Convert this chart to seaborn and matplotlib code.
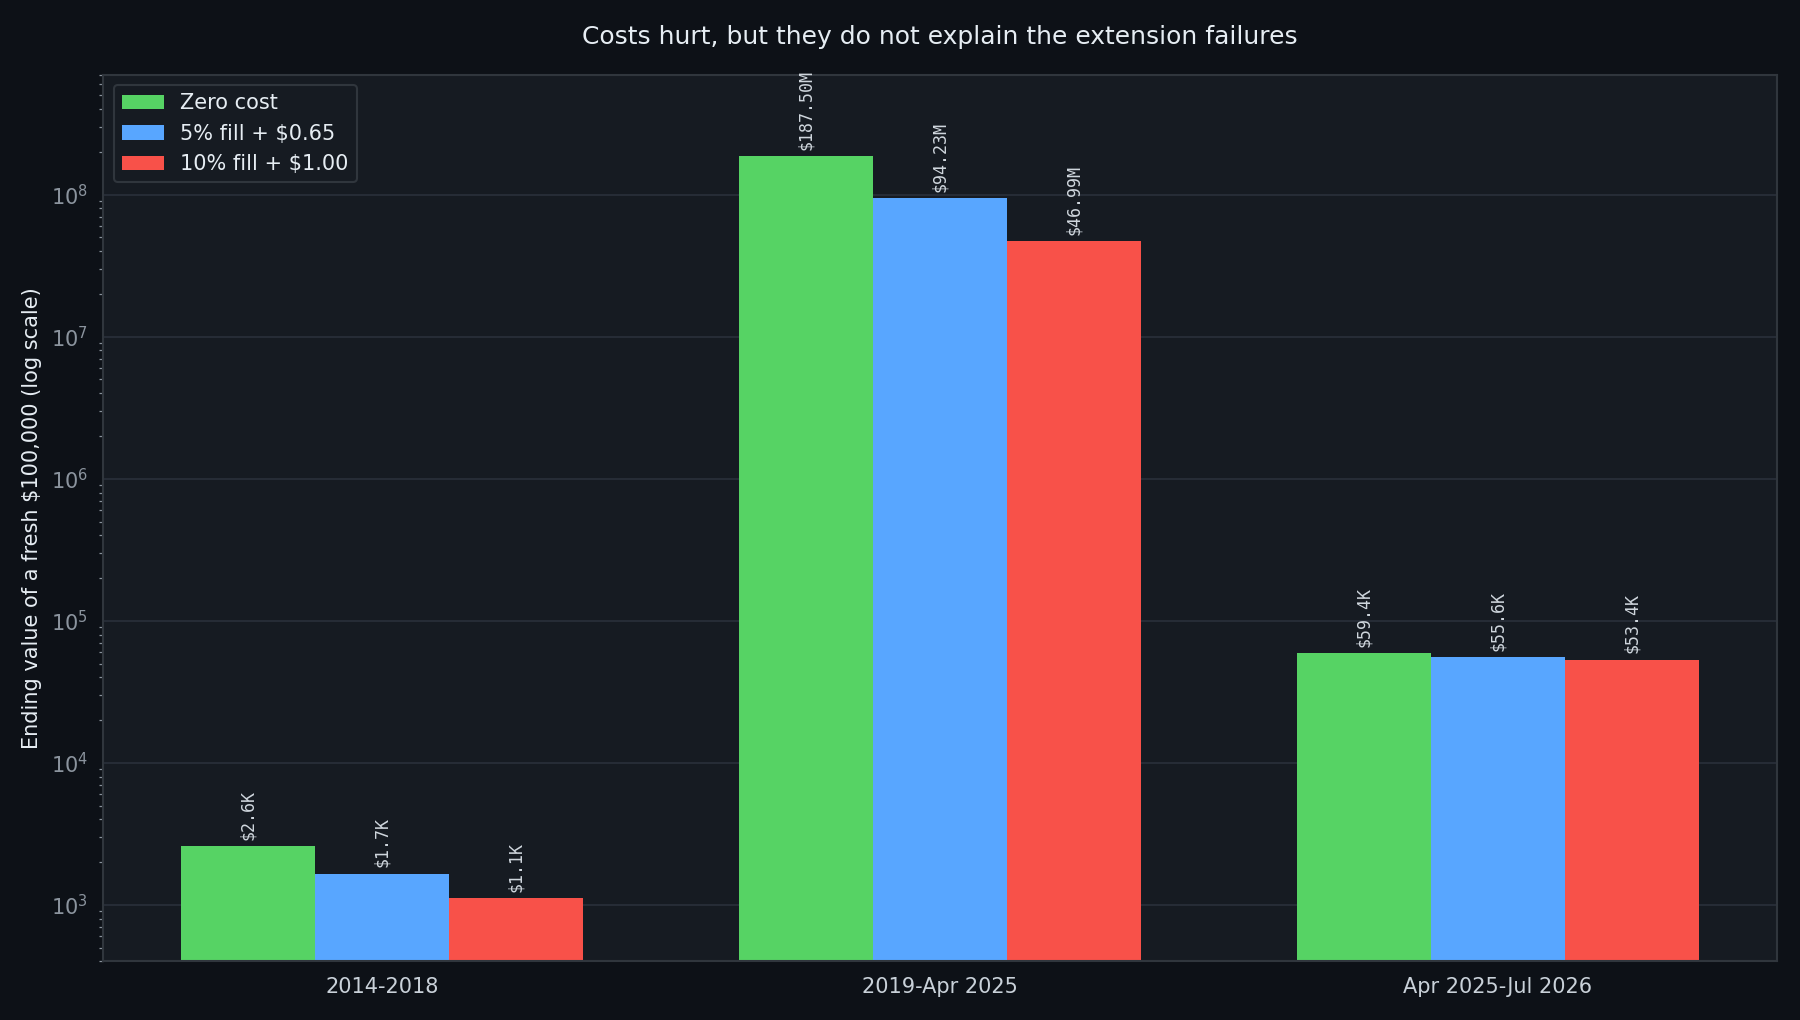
import pandas as pd
import matplotlib
matplotlib.use("Agg")
import matplotlib.pyplot as plt
import seaborn as sns

# ---------------------------
# Data
# ---------------------------
periods = ["2014-2018", "2019-Apr 2025", "Apr 2025-Jul 2026"]
scenarios = ["Zero cost", "5% fill + $0.65", "10% fill + $1.00"]
zero_cost = [2580, 187.50e6, 59.4e3]
fill_5 = [1660, 94.23e6, 55.6e3]
fill_10 = [1120, 46.99e6, 53.4e3]

colors = ["#56d364", "#58a6ff", "#f85149"]

df = pd.DataFrame({
    "Period": periods * 3,
    "Scenario": [scenarios[0]] * 3 + [scenarios[1]] * 3 + [scenarios[2]] * 3,
    "Value": zero_cost + fill_5 + fill_10,
})

# ---------------------------
# Style (dark)
# ---------------------------
bg = "#0d1117"
panel = "#161b22"
edge = "#30363d"
grid = "#262c36"
text = "#e6edf3"
muted = "#8b949e"

sns.set_theme(style="dark")
plt.rcParams.update({
    "figure.facecolor": bg,
    "axes.facecolor": panel,
    "axes.edgecolor": edge,
    "axes.labelcolor": text,
    "text.color": text,
    "xtick.color": muted,
    "ytick.color": muted,
    "font.family": ["DejaVu Sans"],
})

fig, ax = plt.subplots(figsize=(12, 6.8), dpi=150)

sns.barplot(data=df, x="Period", y="Value", hue="Scenario",
            palette=colors, width=0.72, saturation=1, ax=ax,
            edgecolor="none", linewidth=0)
ax.set_yscale("log")
ax.set_ylim(400, 7e8)

ax.yaxis.grid(True, color=grid, linewidth=1)
ax.set_axisbelow(True)
ax.tick_params(axis="both", which="both", direction="out")
ax.tick_params(axis="y", which="major", length=4, width=0.8, color=muted, labelsize=10)
ax.tick_params(axis="y", which="minor", length=2, width=0.6, color=muted, left=True)
ax.tick_params(axis="x", length=4, width=0.8, color=muted, labelsize=10, labelcolor="#c9d1d9")
for s in ax.spines.values():
    s.set_color(edge)
    s.set_linewidth(1)


def fmt(v):
    if v >= 1e6:
        return f"${v/1e6:.2f}M"
    return f"${v/1e3:.1f}K"


for cont in ax.containers:
    labels = [fmt(b.get_height()) for b in cont]
    ax.bar_label(cont, labels=labels, rotation=90, padding=3, fontsize=8,
                 color="#d0d7de", family="DejaVu Sans Mono")

ax.set_title("Costs hurt, but they do not explain the extension failures",
             fontsize=12, color=text, pad=14.5)
ax.set_xlabel("")
ax.set_ylabel("Ending value of a fresh $100,000 (log scale)", fontsize=10, color=text)

leg = ax.legend(loc="upper left", fontsize=10, facecolor=panel, edgecolor=edge,
                framealpha=1, labelcolor=text)

fig.subplots_adjust(left=0.0574, right=0.9872, top=0.9269, bottom=0.0574)
plt.savefig("out.png", dpi=150, facecolor=bg)
